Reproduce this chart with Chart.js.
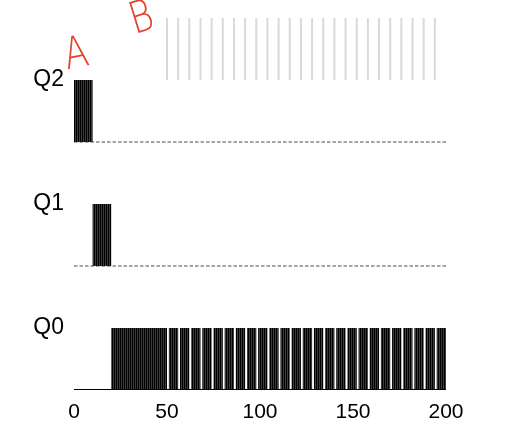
<!DOCTYPE html>
<html>
<head>
<meta charset="utf-8">
<script src="https://cdn.jsdelivr.net/npm/chart.js@4.4.1/dist/chart.umd.min.js"></script>
<style>
  html, body { margin: 0; padding: 0; background: #fff; }
  #wrap { width: 526px; height: 429px; }
</style>
</head>
<body>
<div id="wrap"><canvas id="mlfqChart"></canvas></div>
<script>
// queues from bottom to top
const queueLabels = ['Q0', 'Q1', 'Q2'];
const xTicks = [0, 50, 100, 150, 200];

// time ranges the job ran in each queue
const q2Runs = [[0, 10]];
const q1Runs = [[10, 20]];
const q0Runs = [
    [20, 50], [51, 56], [57, 62], [63, 68], [69, 74], [75, 80], [81, 86],
    [87, 92], [93, 98], [99, 104], [105, 110], [111, 116], [117, 122],
    [123, 128], [129, 134], [135, 140], [141, 146], [147, 152], [153, 158],
    [159, 164], [165, 170], [171, 176], [177, 182], [183, 188], [189, 194],
    [195, 200]
];

// priority boosts (gray marks on top)
const boostTimes = [
    50, 56, 62, 68, 74, 80, 86, 92, 98, 104, 110, 116, 122, 128, 134,
    140, 146, 152, 158, 164, 170, 176, 182, 188, 194
];

const handNotes = ['A', 'B'];

const FONT = '"Liberation Sans", Arial, Helvetica, sans-serif';

// little stripe pattern so the runs look like many time slices
function slicePattern() {
    const c = document.createElement('canvas');
    c.width = 2; c.height = 4;
    const g = c.getContext('2d');
    g.fillStyle = '#000';
    g.fillRect(0, 0, 2, 4);
    g.fillStyle = '#3c3c3c';
    g.fillRect(1, 0, 1, 4);
    return g.createPattern(c, 'repeat');
}
const stripes = slicePattern();

function runBars(runs, row) {
    return runs.map(r => ({ x: r, y: row + 0.5 }));
}

function baseline(row) {
    return [{ x: xTicks[0], y: row }, { x: xTicks[xTicks.length - 1], y: row }];
}

const barStyle = {
    type: 'bar',
    indexAxis: 'y',
    grouped: false,
    backgroundColor: stripes,
    borderWidth: 0,
    barPercentage: 0.5,
    categoryPercentage: 1,
    order: 0
};

const notesPlugin = {
    id: 'notesPlugin',
    afterDraw(chart) {
        const { ctx, scales: { x, y } } = chart;
        const spots = [
            { t: handNotes[0], px: x.getPixelForValue(1.4), py: y.getPixelForValue(5.39), rot: -0.2 },
            { t: handNotes[1], px: x.getPixelForValue(36.6), py: y.getPixelForValue(5.97), rot: -0.3 }
        ];
        ctx.save();
        ctx.fillStyle = '#e2432c';
        ctx.textAlign = 'center';
        ctx.textBaseline = 'middle';
        ctx.font = '200 44px "DejaVu Sans"';
        spots.forEach(s => {
            ctx.save();
            ctx.translate(s.px, s.py);
            ctx.rotate(s.rot);
            ctx.scale(0.8, 1);
            ctx.fillText(s.t, 0, 0);
            ctx.restore();
        });
        ctx.restore();
    }
};

const ctx = document.getElementById('mlfqChart').getContext('2d');
const myChart = new Chart(ctx, {
    data: {
        datasets: [
            Object.assign({ label: 'Q2', data: runBars(q2Runs, 4) }, barStyle),
            Object.assign({ label: 'Q1', data: runBars(q1Runs, 2) }, barStyle),
            Object.assign({ label: 'Q0', data: runBars(q0Runs, 0) }, barStyle),
            {
                type: 'scatter',
                label: 'boost',
                data: boostTimes.map(t => ({ x: t, y: 5.5 })),
                pointStyle: 'line',
                rotation: 90,
                radius: 31,
                borderWidth: 2,
                borderColor: '#d9d9d9',
                clip: false,
                order: 2
            },
            {
                type: 'line', label: 'q2base', data: baseline(4),
                borderColor: '#4a4a4a', borderWidth: 1.2, borderDash: [3.5, 2],
                pointRadius: 0, order: 1
            },
            {
                type: 'line', label: 'q1base', data: baseline(2),
                borderColor: '#4a4a4a', borderWidth: 1.2, borderDash: [3.5, 2],
                pointRadius: 0, order: 1
            },
            {
                type: 'line', label: 'q0base', data: baseline(0),
                borderColor: '#000', borderWidth: 2.2,
                pointRadius: 0, order: -1
            }
        ]
    },
    options: {
        responsive: true,
        maintainAspectRatio: false,
        animation: false,
        layout: {
            autoPadding: false,
            padding: { top: 18, right: 80, left: 0, bottom: 0 }
        },
        plugins: {
            legend: { display: false },
            tooltip: { enabled: false }
        },
        scales: {
            x: {
                type: 'linear',
                min: 0,
                max: 200,
                offset: false,
                grid: { display: false, drawTicks: false },
                border: { display: false },
                afterBuildTicks: scale => { scale.ticks = xTicks.map(v => ({ value: v })); },
                afterFit: scale => { scale.height = 39; },
                ticks: {
                    color: '#000',
                    padding: 10,
                    maxRotation: 0,
                    font: { family: FONT, size: 21 }
                }
            },
            y: {
                type: 'linear',
                min: 0,
                max: 6,
                offset: false,
                grid: { display: false, drawTicks: false, offset: false },
                border: { display: false },
                afterBuildTicks: scale => {
                    scale.ticks = queueLabels.map((q, i) => ({ value: i * 2 + 1 }));
                },
                afterFit: scale => {
                    scale.width = 74;
                    scale.paddingTop = 0;
                    scale.paddingBottom = 0;
                },
                ticks: {
                    color: '#000',
                    padding: 10,
                    font: { family: FONT, size: 23 },
                    callback: v => queueLabels[(v - 1) / 2]
                }
            }
        }
    },
    plugins: [notesPlugin]
});
</script>
</body>
</html>
